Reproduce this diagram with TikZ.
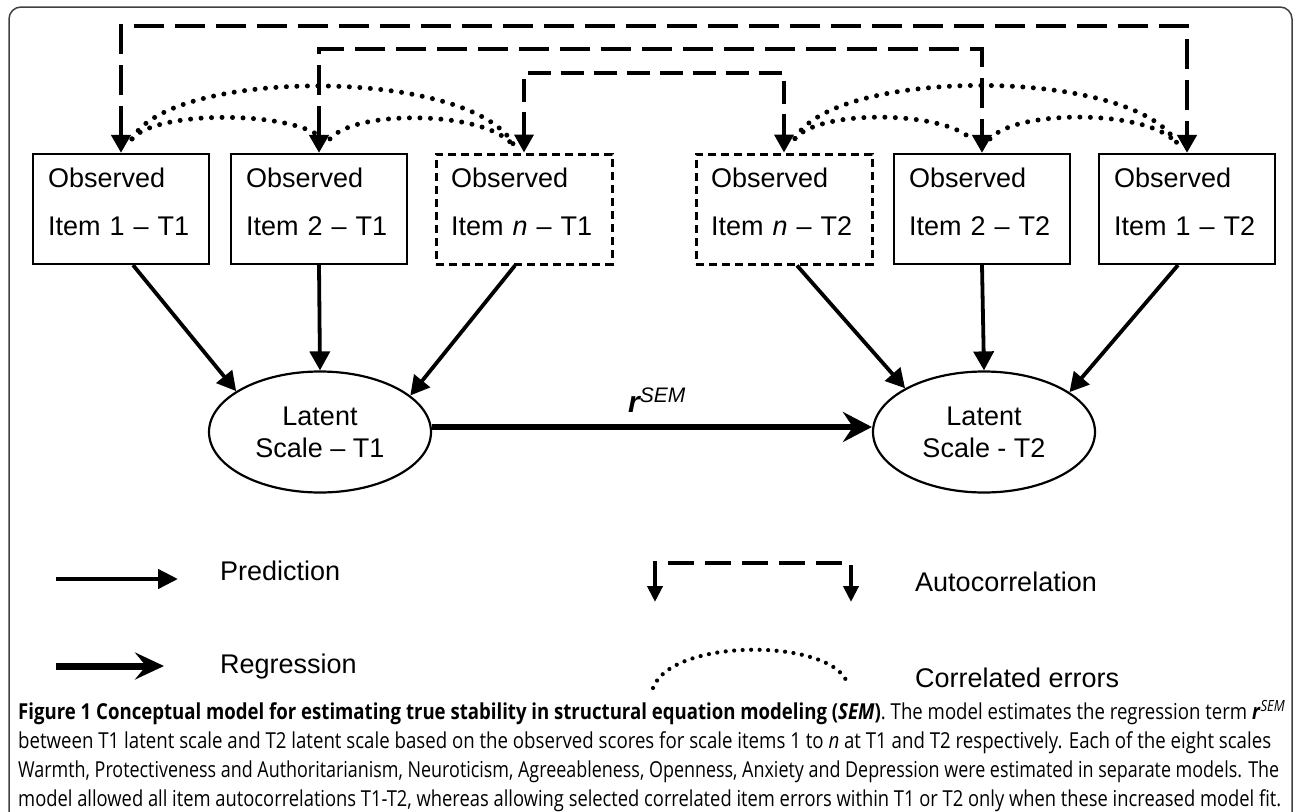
\documentclass[tikz,border=0pt]{standalone}
\usepackage{fontspec}
\usepackage{graphicx}
\setmainfont{Liberation Sans}
\newfontfamily\capfont{Open Sans}
\usetikzlibrary{arrows.meta,shapes.geometric}
\definecolor{framegray}{HTML}{404040}
\begin{document}
\begin{tikzpicture}[x=1pt,y=-1pt,
  obs/.style={draw, line width=2.2pt, rectangle, minimum width=176pt, minimum height=110pt,
    text width=146pt, inner xsep=15pt, inner ysep=0pt, align=left,
    font=\fontsize{27}{48}\selectfont},
  obsn/.style={obs, dash pattern=on 8pt off 5pt, line width=3pt},
  lat/.style={draw, ellipse, line width=2.2pt, minimum width=222pt, minimum height=121pt,
    inner sep=0pt, align=center, font=\fontsize{27}{32}\selectfont},
  pred/.style={line width=3.8pt, -{Triangle[length=19pt,width=20pt]}},
  regr/.style={line width=6pt, -{Stealth[length=29pt,width=30pt,inset=10pt]}},
  autoc/.style={line width=4.6pt, dash pattern=on 30pt off 11pt,
    {Triangle[length=18pt,width=19pt]}-{Triangle[length=18pt,width=19pt]}},
  autoci/.style={autoc, line width=3.8pt, dash pattern=on 23pt off 10pt},
  autocleg/.style={line width=4pt, dash pattern=on 26pt off 11pt,
    {Triangle[length=16pt,width=15pt]}-{Triangle[length=16pt,width=15pt]}},
  corr/.style={line width=5pt, line cap=round, dash pattern=on 0pt off 10.5pt},
  corrleg/.style={line width=4.2pt, line cap=round, dash pattern=on 0pt off 8.5pt},
  legtext/.style={font=\fontsize{27}{32}\selectfont, anchor=base west, inner sep=0pt},
  capline/.style={anchor=base west, inner sep=0pt},
  framestyle/.style={draw=framegray, line width=1.5pt, rounded corners=12pt}
]
\useasboundingbox (0,0) rectangle (1295,811);
\clip (0,0) rectangle (1295,811);
\draw[framestyle] (9,7) rectangle (1292,860);

% observed items
\node[obs]  (b1) at (121,209) {Observed\\Item 1 – T1\rule[-14pt]{0pt}{14pt}};
\node[obs]  (b2) at (319,209) {Observed\\Item 2 – T1\rule[-14pt]{0pt}{14pt}};
\node[obsn] (bn) at (524,209) {Observed\\Item \textit{n} – T1\rule[-14pt]{0pt}{14pt}};
\node[obsn] (cn) at (784,209) {Observed\\Item \textit{n} – T2\rule[-14pt]{0pt}{14pt}};
\node[obs]  (c2) at (982,209) {Observed\\Item 2 – T2\rule[-14pt]{0pt}{14pt}};
\node[obs]  (c1) at (1187,209) {Observed\\Item 1 – T2\rule[-14pt]{0pt}{14pt}};

% latent scales
\node[lat] (l1) at (320,432) {Latent\\Scale – T1};
\node[lat] (l2) at (984,432) {Latent\\Scale - T2};

% autocorrelation
\coordinate (top1) at (0,26);
\coordinate (top2) at (0,49);
\coordinate (top3) at (0,73);
\draw[autoc]  (b1.north) -- (b1.north |- top1) -| (c1.north);
\draw[autoc]  (b2.north) -- (b2.north |- top2) -| (c2.north);
\draw[autoci] (bn.north) -- (bn.north |- top3) -| (cn.north);

% correlated errors
\draw[corr] ([xshift=11pt,yshift=14pt]b1.north) .. controls +(25,-30) and +(-25,-30) .. ([xshift=6pt,yshift=12pt]b2.north);
\draw[corr] ([xshift=11pt,yshift=14pt]b2.north) .. controls +(25,-30) and +(-25,-36) .. ([xshift=-10pt,yshift=6pt]bn.north);
\draw[corr] ([xshift=11pt,yshift=14pt]b1.north) .. controls +(40,-72) and +(-40,-78) .. ([xshift=-10pt,yshift=7pt]bn.north);
\draw[corr] ([xshift=11pt,yshift=14pt]cn.north) .. controls +(25,-30) and +(-25,-30) .. ([xshift=-9pt,yshift=12pt]c2.north);
\draw[corr] ([xshift=8pt,yshift=14pt]c2.north) .. controls +(25,-30) and +(-25,-36) .. ([xshift=-9pt,yshift=8pt]c1.north);
\draw[corr] ([xshift=11pt,yshift=14pt]cn.north) .. controls +(40,-72) and +(-40,-78) .. ([xshift=-9pt,yshift=8pt]c1.north);

% predictions
\draw[pred] ([xshift=12pt]b1.south) -- (l1.154);
\draw[pred] (b2.south) -- (l1.north);
\draw[pred] ([xshift=-9pt]bn.south) -- (l1.22);
\draw[pred] ([xshift=13pt]cn.south) -- (l2.151);
\draw[pred] (c2.south) -- (l2.north);
\draw[pred] ([xshift=-9pt]c1.south) -- (l2.25);

% regression
\draw[regr] ([yshift=5pt]l1.east) -- ([yshift=5pt]l2.west);
\node[anchor=base west, inner sep=0pt] (rlab) at (628,412)
  {\fontsize{30}{30}\selectfont\bfseries\itshape r\raisebox{10pt}{\fontsize{21}{21}\selectfont\mdseries\itshape SEM}};

% legend
\coordinate (pa) at (56,579);
\coordinate (pb) at (178,579);
\draw[pred, line width=4.5pt, -{Triangle[length=20pt,width=19pt]}] (pa) -- (pb);
\node[legtext] (lpred) at (220,580) {Prediction};

\coordinate (ra) at (56,666);
\coordinate (rb) at (164,666);
\draw[regr, line width=7pt, -{Stealth[length=29pt,width=27pt,inset=11pt]}] (ra) -- (rb);
\node[legtext] (lregr) at (220,673) {Regression};

\coordinate (al) at (655,602);
\coordinate (ar) at (851,602);
\coordinate (atop) at (0,563);
\draw[autocleg] (al) -- (al |- atop) -| (ar);
\node[legtext] (lauto) at (915,591) {Autocorrelation};

\coordinate (ca) at (653,688);
\coordinate (cb) at (847,682);
\draw[corrleg] (ca) .. controls +(18,-50) and +(-18,-44) .. (cb);
\node[legtext] (lcorr) at (915,687) {Correlated errors};

% caption
\node[capline] (cap1) at (18,719) {\resizebox{1267pt}{\height}{\capfont\fontsize{22}{26}\selectfont
  \textbf{Figure 1 Conceptual model for estimating true stability in structural equation modeling (\textit{SEM})}. The model estimates the regression term \textbf{\textit{r}}\textsuperscript{\textit{SEM}}}};
\node[capline] (cap2) at (18,748) {\resizebox{1253pt}{\height}{\capfont\fontsize{22}{26}\selectfont
  between T1 latent scale and T2 latent scale based on the observed scores for scale items 1 to \textit{n} at T1 and T2 respectively. Each of the eight scales}};
\node[capline] (cap3) at (18,777) {\resizebox{1261pt}{\height}{\capfont\fontsize{22}{26}\selectfont
  Warmth, Protectiveness and Authoritarianism, Neuroticism, Agreeableness, Openness, Anxiety and Depression were estimated in separate models. The}};
\node[capline] (cap4) at (18,806) {\resizebox{1263pt}{\height}{\capfont\fontsize{22}{26}\selectfont
  model allowed all item autocorrelations T1-T2, whereas allowing selected correlated item errors within T1 or T2 only when these increased model fit.}};
\end{tikzpicture}
\end{document}
